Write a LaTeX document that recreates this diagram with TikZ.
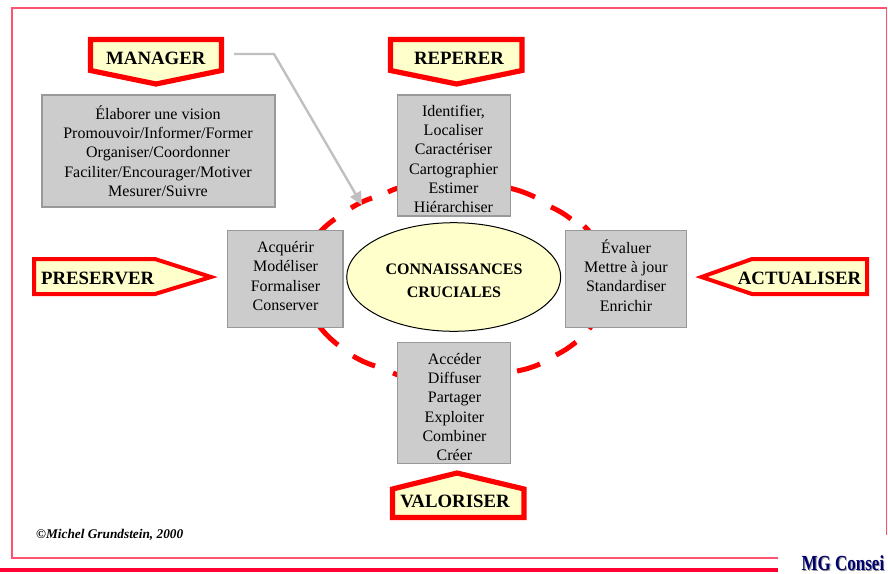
\documentclass[tikz,border=0pt]{standalone}
\usepackage{fontspec}
\setmainfont{Liberation Serif}
\usetikzlibrary{arrows.meta, shapes.geometric}
\definecolor{framepink}{RGB}{255,82,112}
\definecolor{barred}{RGB}{255,0,51}
\definecolor{flagyellow}{RGB}{255,255,204}
\definecolor{boxgrey}{RGB}{204,204,204}
\definecolor{boxedge}{RGB}{153,153,153}
\definecolor{armgrey}{RGB}{192,192,192}
\definecolor{logonavy}{RGB}{0,0,110}
\tikzset{
    flagshape/.style={draw=red, fill=flagyellow, line width=#1, line join=miter},
    flagshape/.default={5.2pt},
    flagtext/.style={font=\fontsize{18.8}{22}\selectfont\bfseries, inner sep=0pt},
    boxshape/.style={draw=boxedge, fill=boxgrey, line width=1.3pt},
    boxtext/.style={font=\fontsize{16}{19.3}\selectfont, align=center, inner sep=0pt},
    ringdash/.style={draw=red, line width=5pt},
    logotext/.style={font=\fontsize{21.5}{23}\selectfont\bfseries, anchor=base west, inner sep=0pt, xscale=0.79}
}
\begin{document}
\begin{tikzpicture}[x=1pt, y=-1pt]
    \useasboundingbox (0,0) rectangle (888,573);
    % frame and bottom bar
    \draw[framepink, line width=1.8pt] (886.5,535) -- (886.5,8) -- (12,8) -- (12,558) -- (778,558);
    \draw[barred, line width=4pt] (0,570) -- (778,570);
    \node[logotext, text=boxedge] (logoback) at (802.5,571) {MG Consei};
    \node[logotext, text=logonavy] (logo) at (801.5,570.5) {MG Consei};
    % dashes of the ring first, the boxes sit on them
    \foreach \xa/\ya/\xb/\yb in {319/233/335/219, 351/208/372/198, 388/192/402/187, 505/187/535/197, 551/207/571/219, 584/226/589/231,
        592/325/589/329, 576/342/556/355, 540/364/517/371, 402/376/393/373, 375/366/353/356, 338/345/319/326}
        \draw[ringdash] (\xa,\ya) to[bend left=6] (\xb,\yb);
    % grey boxes
    \node[boxshape, minimum width=233pt, minimum height=112pt] (managerbox) at (158.5,151) {};
    \node[boxshape, minimum width=113pt, minimum height=121pt] (repererbox) at (454.2,155.5) {};
    \node[boxshape, minimum width=115.5pt, minimum height=97pt] (preserverbox) at (285.2,279) {};
    \node[boxshape, minimum width=121.5pt, minimum height=97pt] (actualiserbox) at (626,279) {};
    \node[boxshape, minimum width=113pt, minimum height=121.5pt] (valoriserbox) at (454.2,403) {};
    \node[boxtext] (managertext) at (158,151) {Élaborer une vision\\Promouvoir/Informer/Former\\Organiser/Coordonner\\Faciliter/Encourager/Motiver\\Mesurer/Suivre};
    \node[boxtext] (referertext) at (453.5,159) {Identifier,\\Localiser\\Caractériser\\Cartographier\\Estimer\\Hiérarchiser};
    \node[boxtext] (preservertext) at (285.5,276) {Acquérir\\Modéliser\\Formaliser\\Conserver};
    \node[boxtext] (actualisertext) at (626,275.5) {Évaluer\\Mettre à jour\\Standardiser\\Enrichir};
    \node[boxtext] (valorisertext) at (454.5,407) {Accéder\\Diffuser\\Partager\\Exploiter\\Combiner\\Créer};
    % centre
    \node[draw=black, fill=flagyellow, ellipse, minimum width=214pt, minimum height=108.6pt, inner sep=0pt, line width=1pt] (centre) at (453.7,277) {};
    \node[font=\fontsize{16}{23}\selectfont\bfseries, align=center, inner sep=0pt] (centretext) at (454,280.5) {CONNAISSANCES\\CRUCIALES};
    % flags
    \draw[flagshape] (90.5,39.5) -- (221.5,39.5) -- (221.5,70.5) -- (156,84) -- (90.5,70.5) -- cycle;
    \draw[flagshape] (390.5,39.5) -- (522,39.5) -- (522,70.5) -- (456.7,84) -- (390.5,70.5) -- cycle;
    \draw[flagshape] (392.5,517.5) -- (524,517.5) -- (524,489) -- (457,473) -- (392.5,489) -- cycle;
    \draw[flagshape=4pt] (34,259) -- (155,259) -- (211,277) -- (155,294) -- (34,294) -- cycle;
    \draw[flagshape=4pt] (867,259) -- (752,259) -- (701.5,277) -- (752,294) -- (867,294) -- cycle;
    \node[flagtext] (manager) at (155.8,58) {MANAGER};
    \node[flagtext] (reperer) at (459,58.5) {REPERER};
    \node[flagtext] (preserver) at (97.7,278.5) {PRESERVER};
    \node[flagtext] (actualiser) at (799.5,278.5) {ACTUALISER};
    \node[flagtext] (valoriser) at (455,501) {VALORISER};
    % arrow from the manager flag down to the ring
    \coordinate (armstart) at (234,54);
    \coordinate (armbend) at (274,54);
    \coordinate (armend) at (362,205);
    \draw[-{Triangle[length=13pt,width=12pt]}, draw=armgrey, line width=2.4pt] (armstart) -- (armbend) -- (armend);
    \node[font=\fontsize{13.3}{15}\selectfont\bfseries\itshape, anchor=west, inner sep=0pt] (copyright) at (36,535) {©Michel Grundstein, 2000};
\end{tikzpicture}
\end{document}
